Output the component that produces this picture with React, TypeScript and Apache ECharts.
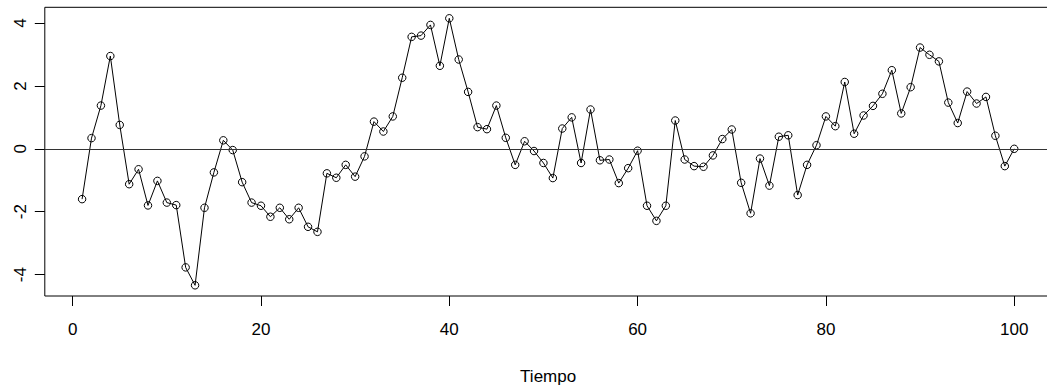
import React, { useEffect, useRef } from "react";
import * as echarts from "echarts";

const values: number[] = [
  -1.6, 0.34, 1.375, 2.95, 0.76, -1.125, -0.65, -1.8, -1.02, -1.71,
  -1.79, -3.77, -4.34, -1.875, -0.75, 0.27, -0.04, -1.06, -1.71, -1.81,
  -2.16, -1.875, -2.24, -1.875, -2.48, -2.64, -0.78, -0.92, -0.51, -0.885,
  -0.24, 0.865, 0.55, 1.03, 2.26, 3.56, 3.6, 3.94, 2.64, 4.15,
  2.84, 1.81, 0.69, 0.625, 1.375, 0.35, -0.51, 0.24, -0.07, -0.45,
  -0.93, 0.645, 1.0, -0.45, 1.25, -0.365, -0.34, -1.09, -0.615, -0.06,
  -1.81, -2.29, -1.81, 0.9, -0.34, -0.55, -0.57, -0.21, 0.31, 0.615,
  -1.08, -2.05, -0.31, -1.17, 0.385, 0.43, -1.47, -0.51, 0.115, 1.03,
  0.72, 2.125, 0.48, 1.06, 1.365, 1.75, 2.5, 1.125, 1.96, 3.22,
  2.99, 2.78, 1.47, 0.82, 1.82, 1.44, 1.65, 0.415, -0.55, 0.0,
];
const times: number[] = values.map((_, i) => i + 1);
const xTicks: number[] = [0, 20, 40, 60, 80, 100];
const yTicks: number[] = [-4, -2, 0, 2, 4];
const xTitle = "Tiempo";

const FONT = "'Liberation Sans', Arial, Helvetica, sans-serif";

export default function App() {
  const ref = useRef<HTMLDivElement>(null);
  useEffect(() => {
    if (!ref.current) return;
    const chart = echarts.init(ref.current, null, { renderer: "svg" });
    const data = times.map((t, i) => [t, values[i]]);
    chart.setOption({
      animation: false,
      backgroundColor: "#ffffff",
      grid: {
        left: 44.8,
        right: 0.5,
        top: 7.3,
        bottom: 390 - 301.3,
        show: true,
        borderColor: "#000000",
        borderWidth: 1,
        backgroundColor: "transparent",
      },
      xAxis: {
        type: "value",
        position: "bottom",
        min: -2.96,
        max: 103.96,
        name: xTitle,
        nameLocation: "middle",
        nameGap: 72,
        nameTextStyle: { fontFamily: FONT, fontSize: 17, color: "#000" },
        axisLine: { show: false, onZero: false },
        splitLine: { show: false },
        axisTick: {
          show: true,
          customValues: xTicks,
          length: 10,
          lineStyle: { color: "#000", width: 1 },
        },
        axisLabel: {
          customValues: xTicks,
          margin: 25,
          fontFamily: FONT,
          fontSize: 17,
          color: "#000",
        },
      },
      yAxis: {
        type: "value",
        position: "left",
        min: -4.68,
        max: 4.5,
        axisLine: { show: false, onZero: false },
        splitLine: { show: false },
        axisTick: {
          show: true,
          customValues: yTicks,
          length: 10,
          lineStyle: { color: "#000", width: 1 },
        },
        axisLabel: {
          customValues: yTicks,
          rotate: 90,
          margin: 15.5,
          fontFamily: FONT,
          fontSize: 17,
          color: "#000",
        },
      },
      series: [
        {
          type: "line",
          data,
          symbol: "circle",
          symbolSize: 7.5,
          showSymbol: true,
          lineStyle: { color: "#000", width: 1 },
          itemStyle: { color: "rgba(0,0,0,0)", borderColor: "#000", borderWidth: 1 },
          emphasis: { disabled: true },
          markLine: {
            silent: true,
            symbol: ["none", "none"],
            label: { show: false },
            lineStyle: { color: "#333", width: 1, type: "solid" },
            data: [{ yAxis: 0 }],
          },
          z: 3,
        },
      ],
    });
    return () => chart.dispose();
  }, []);
  return (
    <div
      style={{
        position: "absolute",
        left: 0,
        top: 0,
        width: 1047,
        height: 390,
        overflow: "hidden",
        background: "#fff",
      }}
    >
      <div ref={ref} style={{ width: 1052, height: 390 }} />
    </div>
  );
}
